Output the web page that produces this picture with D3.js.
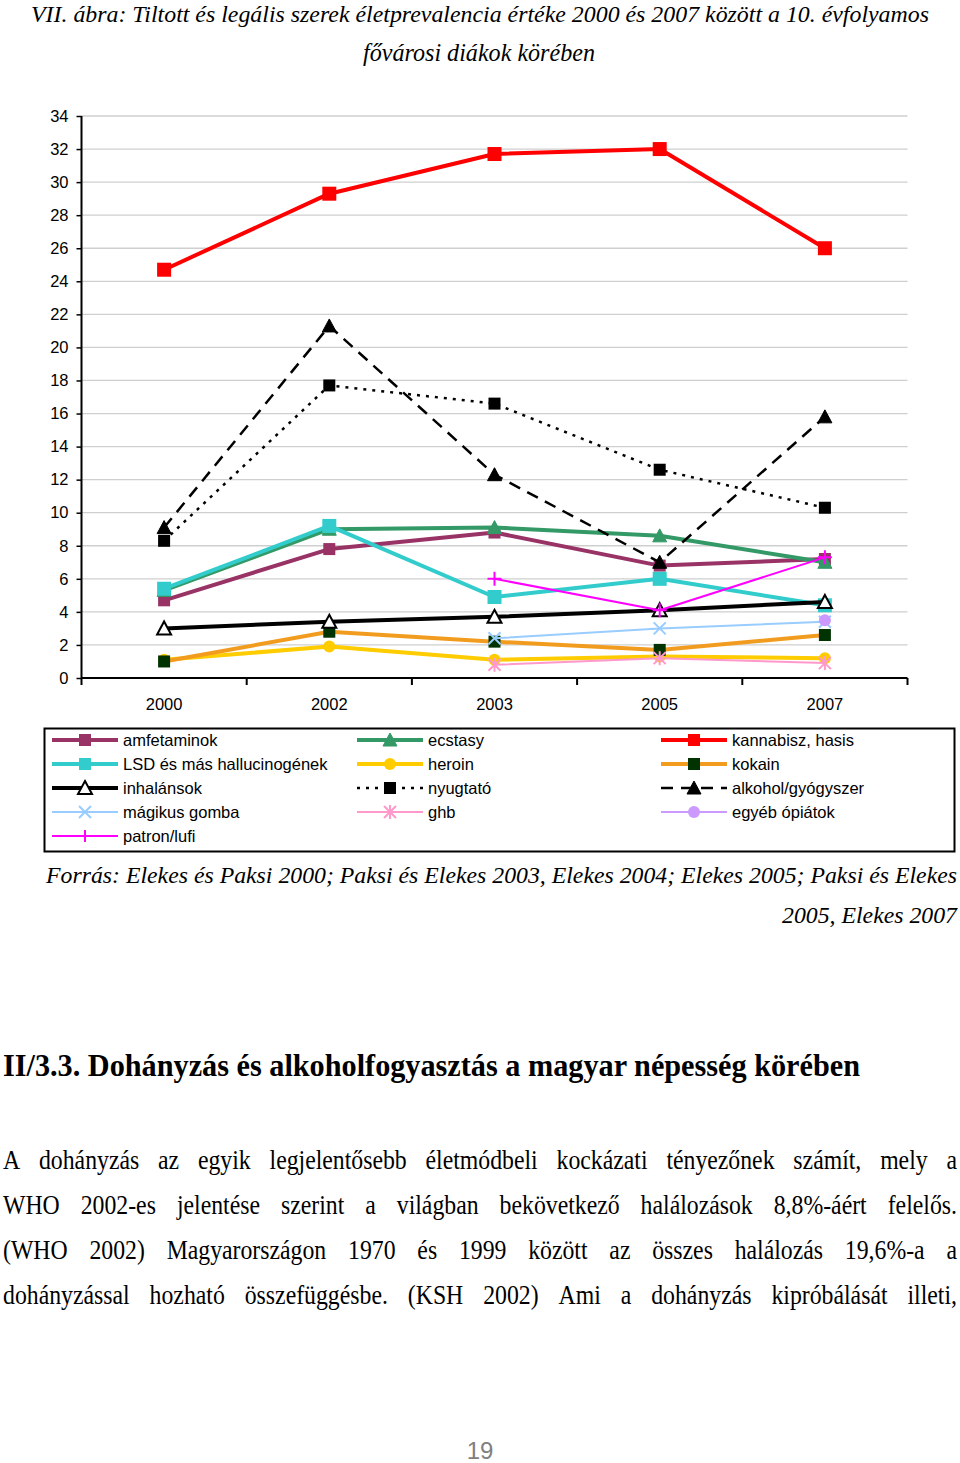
<!DOCTYPE html>
<html><head><meta charset="utf-8">
<script src="https://cdn.jsdelivr.net/npm/d3@7"></script>
<style>body{margin:0;background:#fff}svg{display:block}</style>
</head><body>
<svg id="c" width="960" height="1463"></svg>
<script>
const years = ["2000","2002","2003","2005","2007"];
const yTicks = [0,2,4,6,8,10,12,14,16,18,20,22,24,26,28,30,32,34];
const seriesNames = ["amfetaminok","ecstasy","kannabisz, hasis","LSD és más hallucinogének","heroin","kokain","inhalánsok","nyugtató","alkohol/gyógyszer","mágikus gomba","ghb","egyéb ópiátok","patron/lufi"];
const amfetaminok = [4.7, 7.8, 8.8, 6.8, 7.2];
const ecstasy = [5.3, 9.0, 9.1, 8.6, 7.0];
const kannabisz = [24.7, 29.3, 31.7, 32.0, 26.0];
const lsd = [5.4, 9.2, 4.9, 6.0, 4.4];
const heroin = [1.1, 1.9, 1.1, 1.3, 1.2];
const kokain = [1.0, 2.8, 2.2, 1.7, 2.6];
const inhalansok = [3.0, 3.4, 3.7, 4.1, 4.6];
const nyugtato = [8.3, 17.7, 16.6, 12.6, 10.3];
const alkohol = [9.1, 21.3, 12.3, 7.0, 15.8];
const magikus = [null, null, 2.4, 3.0, 3.4];
const ghb = [null, null, 0.8, 1.2, 0.9];
const egyeb = [null, null, null, null, 3.5];
const patron = [null, null, 6.0, 4.1, 7.3];
const titleLines = ["VII. ábra: Tiltott és legális szerek életprevalencia értéke 2000 és 2007 között a 10. évfolyamos","fővárosi diákok körében"];
const sourceLines = ["Forrás: Elekes és Paksi 2000; Paksi és Elekes 2003, Elekes 2004; Elekes 2005; Paksi és Elekes","2005, Elekes 2007"];
const heading = "II/3.3. Dohányzás és alkoholfogyasztás a magyar népesség körében";
const paragraph = ["A dohányzás az egyik legjelentősebb életmódbeli kockázati tényezőnek számít, mely a",
 "WHO 2002-es jelentése szerint a világban bekövetkező halálozások 8,8%-áért felelős.",
 "(WHO 2002) Magyarországon 1970 és 1999 között az összes halálozás 19,6%-a a",
 "dohányzással hozható összefüggésbe. (KSH 2002) Ami a dohányzás kipróbálását illeti,"];
const pageNum = "19";

const values = [amfetaminok, ecstasy, kannabisz, lsd, heroin, kokain, inhalansok, nyugtato, alkohol, magikus, ghb, egyeb, patron];
const styles = [
 {c:"#993366", w:4, m:"square", mc:"#993366", ms:12},
 {c:"#339966", w:4, m:"triangle", mc:"#339966", ms:12},
 {c:"#FF0000", w:4, m:"square", mc:"#FF0000", ms:14},
 {c:"#33CCCC", w:4, m:"square", mc:"#33CCCC", ms:14},
 {c:"#FFCC00", w:4, m:"circle", mc:"#FFCC00", ms:12},
 {c:"#F29C1F", w:4, m:"square", mc:"#003300", ms:12},
 {c:"#000000", w:4, m:"otriangle", mc:"#000000", ms:12},
 {c:"#000000", w:2.5, d:"3,6", m:"square", mc:"#000000", ms:12},
 {c:"#000000", w:2.5, d:"12,8", m:"triangle", mc:"#000000", ms:12},
 {c:"#99CCFF", w:2, m:"x", mc:"#99CCFF", ms:12},
 {c:"#FF99CC", w:2, m:"star", mc:"#FF99CC", ms:12},
 {c:"#CC99FF", w:2, m:"circle", mc:"#CC99FF", ms:12},
 {c:"#FF00FF", w:2, m:"plus", mc:"#FF00FF", ms:14}
];

const svg = d3.select("#c");
const serif = "'Liberation Serif','Times New Roman',serif";
const sans = "'Liberation Sans',Arial,sans-serif";

// title
svg.append("text").attr("x",480).attr("y",22).attr("text-anchor","middle")
 .attr("font-family",serif).attr("font-style","italic").attr("font-size",24)
 .attr("textLength",898).attr("lengthAdjust","spacingAndGlyphs").text(titleLines[0]);
svg.append("text").attr("x",479).attr("y",61).attr("text-anchor","middle")
 .attr("font-family",serif).attr("font-style","italic").attr("font-size",25)
 .attr("textLength",232).attr("lengthAdjust","spacingAndGlyphs").text(titleLines[1]);

const x = d3.scaleBand().domain(years).range([81.5,907.5]).padding(0);
const y = d3.scaleLinear().domain([0,34]).range([678,116]);
const cx = d => x(d) + x.bandwidth()/2;

// gridlines
svg.append("g").selectAll("line").data(yTicks.filter(t=>t>0)).join("line")
 .attr("x1",81.5).attr("x2",907.5).attr("y1",d=>y(d)).attr("y2",d=>y(d))
 .attr("stroke","#cfcfcf").attr("stroke-width",1.3);

// y axis
const ya = svg.append("g").attr("transform","translate(81.5,0)")
 .call(d3.axisLeft(y).tickValues(yTicks).tickSize(5).tickPadding(8));
ya.select(".domain").attr("stroke","#000").attr("stroke-width",2).attr("d","M0,"+y(34)+"V"+y(0));
ya.selectAll(".tick line").attr("stroke","#000").attr("stroke-width",1.5);
ya.selectAll("text").attr("font-family",sans).attr("font-size",16.5).attr("fill","#000");

// x axis
const xa = svg.append("g").attr("transform","translate(0,"+y(0)+")")
 .call(d3.axisBottom(x).tickSize(0).tickPadding(20));
xa.select(".domain").attr("stroke","#000").attr("stroke-width",2).attr("d","M81.5,0H907.5");
xa.selectAll("text").attr("font-family",sans).attr("font-size",16.5).attr("fill","#000");
const bounds = years.map(d=>x(d)).concat([x(years[years.length-1])+x.bandwidth()]);
xa.selectAll("line.bt").data(bounds).join("line").attr("class","bt")
 .attr("x1",d=>d).attr("x2",d=>d).attr("y1",0).attr("y2",7)
 .attr("stroke","#000").attr("stroke-width",2);

function marker(g, type, px, py, s, col){
 const h = s/2;
 if(type==="square") g.append("rect").attr("x",px-h).attr("y",py-h).attr("width",s).attr("height",s).attr("fill",col);
 else if(type==="circle") g.append("circle").attr("cx",px).attr("cy",py).attr("r",h).attr("fill",col);
 else if(type==="triangle"||type==="otriangle"){
  const p = d3.path(); p.moveTo(px,py-h-1); p.lineTo(px+h+1,py+h); p.lineTo(px-h-1,py+h); p.closePath();
  g.append("path").attr("d",p.toString()).attr("fill",type==="triangle"?col:"#fff").attr("stroke",col).attr("stroke-width",type==="triangle"?1:2);
 } else if(type==="x"){
  g.append("path").attr("d",`M${px-h},${py-h}L${px+h},${py+h}M${px+h},${py-h}L${px-h},${py+h}`).attr("stroke",col).attr("stroke-width",2);
 } else if(type==="star"){
  g.append("path").attr("d",`M${px-h},${py-h}L${px+h},${py+h}M${px+h},${py-h}L${px-h},${py+h}M${px},${py-h-1}L${px},${py+h+1}`).attr("stroke",col).attr("stroke-width",2);
 } else if(type==="plus"){
  g.append("path").attr("d",`M${px-h},${py}L${px+h},${py}M${px},${py-h}L${px},${py+h}`).attr("stroke",col).attr("stroke-width",2);
 }
}

const line = d3.line().defined(d=>d.v!=null).x(d=>cx(d.k)).y(d=>y(d.v));
values.forEach((vals,i)=>{
 const st = styles[i];
 const pts = years.map((k,j)=>({k, v:vals[j]}));
 const g = svg.append("g");
 g.append("path").attr("d",line(pts)).attr("fill","none").attr("stroke",st.c)
  .attr("stroke-width",st.w).attr("stroke-dasharray",st.d||null).attr("stroke-linejoin","round");
 pts.filter(p=>p.v!=null).forEach(p=>marker(g, st.m, cx(p.k), y(p.v), st.ms, st.mc));
});

// legend
svg.append("rect").attr("x",44.5).attr("y",728.5).attr("width",910).attr("height",123)
 .attr("fill","none").attr("stroke","#000").attr("stroke-width",2);
const colX = [52,357,661];
seriesNames.forEach((n,i)=>{
 const st = styles[i];
 const col = i%3, row = Math.floor(i/3);
 const lx = colX[col], ly = 740 + row*24;
 const g = svg.append("g");
 g.append("line").attr("x1",lx).attr("x2",lx+66).attr("y1",ly).attr("y2",ly)
  .attr("stroke",st.c).attr("stroke-width",st.w).attr("stroke-dasharray",st.d||null);
 marker(g, st.m, lx+33, ly, Math.min(st.ms,12), st.mc);
 g.append("text").attr("x",lx+71).attr("y",ly+6).attr("font-family",sans).attr("font-size",16.5).text(n);
});

// source
svg.append("text").attr("x",46).attr("y",883).attr("font-family",serif).attr("font-style","italic")
 .attr("font-size",23).attr("textLength",911).attr("lengthAdjust","spacingAndGlyphs").text(sourceLines[0]);
svg.append("text").attr("x",957).attr("y",923).attr("text-anchor","end").attr("font-family",serif).attr("font-style","italic")
 .attr("font-size",23).attr("textLength",175).attr("lengthAdjust","spacingAndGlyphs").text(sourceLines[1]);

// heading
svg.append("text").attr("x",3).attr("y",1076).attr("font-family",serif).attr("font-weight","bold")
 .attr("font-size",32).attr("textLength",857).attr("lengthAdjust","spacingAndGlyphs").text(heading);

// justified paragraph
const sx = 0.88;
paragraph.forEach((ln,i)=>{
 const words = ln.split(" ");
 const by = 1169 + i*45;
 const g = svg.append("g");
 const ts = words.map(w=>g.append("text").attr("y",by).attr("font-family",serif).attr("font-size",27).text(w));
 const widths = ts.map(t=>t.node().getComputedTextLength()*sx);
 const total = d3.sum(widths);
 const gap = (954 - total)/(words.length-1);
 let cxp = 3;
 ts.forEach((t,j)=>{ t.attr("x",0).attr("transform",`translate(${cxp},0) scale(${sx},1)`); cxp += widths[j]+gap; });
});

svg.append("text").attr("x",480).attr("y",1459).attr("text-anchor","middle").attr("font-family",sans)
 .attr("font-size",24).attr("fill","#808080").text(pageNum);
</script>
</body></html>
